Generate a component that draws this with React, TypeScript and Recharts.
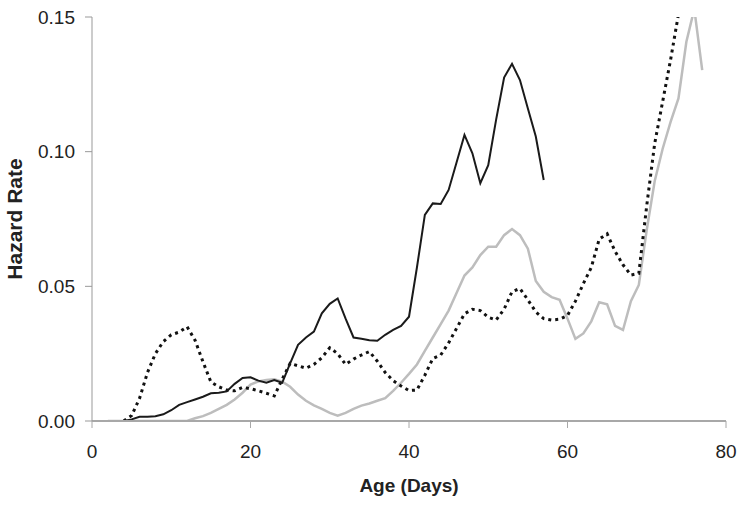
import * as React from "react";
import { CartesianGrid, Line, LineChart, XAxis, YAxis } from "recharts";

// age in days (x categories)
const days = [
  2, 3, 4, 5, 6, 7, 8, 9, 10, 11, 12, 13, 14, 15, 16, 17, 18, 19, 20, 21, 22, 23, 24, 25, 26,
  27, 28, 29, 30, 31, 32, 33, 34, 35, 36, 37, 38, 39, 40, 41, 42, 43, 44, 45, 46, 47, 48, 49,
  50, 51, 52, 53, 54, 55, 56, 57, 58, 59, 60, 61, 62, 63, 64, 65, 66, 67, 68, 69, 70, 71, 72,
  73, 74, 75, 76, 77,
];

// solid black series, days 2..57
const SOLID_START = 2;
const solid = [
  0, 0, 0, 0.0006, 0.0016, 0.0016, 0.0018, 0.0025, 0.004, 0.006, 0.007, 0.008, 0.009, 0.0103,
  0.0105, 0.011, 0.0138, 0.016, 0.0162, 0.015, 0.0142, 0.0152, 0.0142, 0.0214, 0.0283, 0.031,
  0.0332, 0.04, 0.0435, 0.0455, 0.038, 0.031, 0.0305, 0.03, 0.0298, 0.032, 0.0338, 0.0353,
  0.0387, 0.057, 0.0765, 0.0808, 0.0806, 0.0858, 0.096, 0.1062, 0.0994, 0.0883, 0.095, 0.112,
  0.1275, 0.1326, 0.1266, 0.116, 0.1056, 0.0895,
];

// dotted black series, days 4..74
const DOTTED_START = 4;
const dotted = [
  0, 0.002, 0.0084, 0.018, 0.025, 0.0295, 0.032, 0.033, 0.035, 0.03, 0.022, 0.0145, 0.0127,
  0.0115, 0.0112, 0.0125, 0.012, 0.0112, 0.0103, 0.0093, 0.0155, 0.0214, 0.0205, 0.0196, 0.021,
  0.0235, 0.0272, 0.025, 0.021, 0.023, 0.0245, 0.0258, 0.0222, 0.018, 0.015, 0.013, 0.0113,
  0.0115, 0.017, 0.0232, 0.0245, 0.029, 0.0344, 0.0398, 0.0415, 0.041, 0.0385, 0.0375, 0.0415,
  0.048, 0.0492, 0.045, 0.0405, 0.038, 0.0375, 0.0378, 0.0392, 0.0445, 0.051, 0.057, 0.0675,
  0.0695, 0.063, 0.058, 0.0542, 0.0548, 0.08, 0.103, 0.1185, 0.134, 0.151,
];

// light grey series, days 2..77
const GREY_START = 2;
const grey = [
  0, 0, 0, 0, 0, 0, 0, 0, 0, 0, 0, 0.001, 0.0018, 0.003, 0.0045, 0.006, 0.008, 0.0105, 0.0135,
  0.0147, 0.0152, 0.0155, 0.0146, 0.0127, 0.0098, 0.0075, 0.0058, 0.0045, 0.003, 0.002, 0.003,
  0.0045, 0.0057, 0.0065, 0.0075, 0.0085, 0.0112, 0.0142, 0.0175, 0.021, 0.026, 0.031, 0.036,
  0.041, 0.0475, 0.054, 0.057, 0.0616, 0.0647, 0.0647, 0.069, 0.0713, 0.069, 0.064, 0.052,
  0.048, 0.046, 0.045, 0.038, 0.0305, 0.0325, 0.037, 0.0441, 0.0433, 0.0353, 0.0338, 0.0445,
  0.0505, 0.071, 0.089, 0.101, 0.111, 0.1198, 0.1408, 0.153, 0.1303,
];

const xTicks = [0, 20, 40, 60, 80];
const yTicks = [0, 0.05, 0.1, 0.15];

const pick = (arr: number[], start: number, d: number) => {
  const v = arr[d - start];
  return v === undefined ? null : v;
};

const data = days.map((d) => ({
  day: d,
  solid: pick(solid, SOLID_START, d),
  dotted: pick(dotted, DOTTED_START, d),
  grey: pick(grey, GREY_START, d),
}));

const FONT = "'Liberation Sans', Arial, sans-serif";
const tickStyle = { fontSize: 19, fill: "#222", fontFamily: FONT };

export default function App() {
  return (
    <div style={{ position: "absolute", left: 0, top: 0, background: "#fff" }}>
      <LineChart
        width={750}
        height={514}
        data={data}
        margin={{ top: 17, right: 24, left: 0, bottom: 0 }}
      >
        <CartesianGrid stroke="none" />
        <XAxis
          dataKey="day"
          type="number"
          domain={[0, 80]}
          ticks={xTicks}
          height={93}
          tickSize={7}
          tickMargin={17}
          axisLine={{ stroke: "#a8a8a8", strokeWidth: 2 }}
          tickLine={{ stroke: "#a8a8a8", strokeWidth: 1 }}
          tick={tickStyle}
          label={{
            value: "Age (Days)",
            position: "insideBottom",
            offset: 22,
            style: { fontSize: 19, fontWeight: "bold", fill: "#222", fontFamily: FONT },
          }}
        />
        <YAxis
          type="number"
          domain={[0, 0.15]}
          ticks={yTicks}
          allowDataOverflow
          width={92}
          tickSize={7}
          tickMargin={10}
          tickFormatter={(v: number) => v.toFixed(2)}
          axisLine={{ stroke: "#999", strokeWidth: 1 }}
          tickLine={{ stroke: "#999", strokeWidth: 1 }}
          tick={tickStyle}
          label={{
            value: "Hazard Rate",
            angle: -90,
            position: "insideLeft",
            offset: 15,
            style: {
              fontSize: 21,
              fontWeight: "bold",
              fill: "#222",
              fontFamily: FONT,
              textAnchor: "middle",
            },
          }}
        />
        {/* grey series first so the black ones sit on top */}
        <Line
          dataKey="grey"
          type="linear"
          stroke="#bdbdbd"
          strokeWidth={2.5}
          dot={false}
          isAnimationActive={false}
        />
        <Line
          dataKey="dotted"
          type="linear"
          stroke="#111"
          strokeWidth={3}
          strokeDasharray="3 4"
          dot={false}
          isAnimationActive={false}
        />
        <Line
          dataKey="solid"
          type="linear"
          stroke="#1a1a1a"
          strokeWidth={2}
          dot={false}
          isAnimationActive={false}
        />
      </LineChart>
    </div>
  );
}
